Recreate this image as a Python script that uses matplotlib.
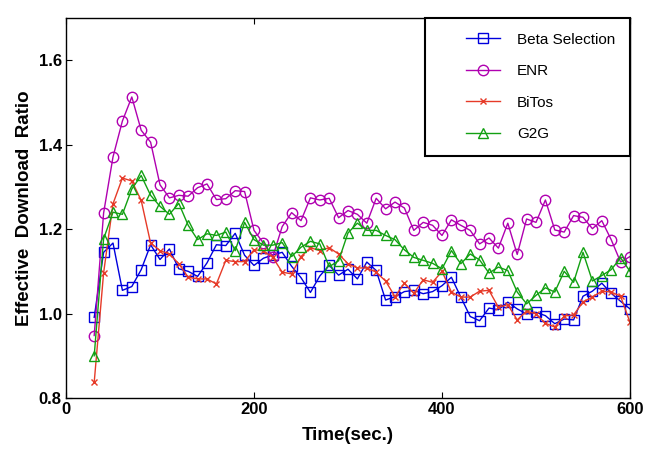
import numpy as np
import matplotlib
matplotlib.use("Agg")
import matplotlib.pyplot as plt
from matplotlib.legend_handler import HandlerLine2D

time_sec = list(range(30, 601, 10))

beta_selection = [0.991, 1.145, 1.167, 1.055, 1.064, 1.104, 1.163, 1.128, 1.153, 1.106,
                  1.100, 1.088, 1.120, 1.163, 1.161, 1.190, 1.138, 1.114, 1.131, 1.139,
                  1.145, 1.112, 1.085, 1.050, 1.089, 1.114, 1.091, 1.105, 1.082, 1.122,
                  1.102, 1.032, 1.040, 1.052, 1.055, 1.047, 1.052, 1.066, 1.086, 1.039,
                  0.993, 0.983, 1.013, 1.009, 1.027, 1.011, 0.999, 1.003, 0.995, 0.976,
                  0.987, 0.985, 1.041, 1.053, 1.072, 1.048, 1.029, 1.011]

enr = [0.948, 1.238, 1.371, 1.456, 1.513, 1.434, 1.406, 1.305, 1.274, 1.280,
       1.278, 1.298, 1.307, 1.270, 1.272, 1.291, 1.289, 1.197, 1.167, 1.135,
       1.206, 1.239, 1.220, 1.274, 1.269, 1.273, 1.227, 1.244, 1.235, 1.214,
       1.273, 1.248, 1.264, 1.250, 1.197, 1.216, 1.209, 1.185, 1.222, 1.209,
       1.197, 1.165, 1.179, 1.155, 1.214, 1.140, 1.224, 1.216, 1.269, 1.198,
       1.193, 1.232, 1.228, 1.201, 1.220, 1.175, 1.122, 1.135]

bitos = [0.837, 1.096, 1.260, 1.321, 1.314, 1.268, 1.167, 1.149, 1.141, 1.118,
         1.086, 1.082, 1.082, 1.070, 1.126, 1.123, 1.123, 1.151, 1.149, 1.133,
         1.098, 1.094, 1.135, 1.156, 1.149, 1.156, 1.141, 1.118, 1.108, 1.108,
         1.098, 1.077, 1.040, 1.072, 1.048, 1.080, 1.074, 1.100, 1.051, 1.039,
         1.039, 1.053, 1.055, 1.015, 1.021, 0.985, 1.006, 0.999, 0.977, 0.968,
         0.994, 0.997, 1.027, 1.039, 1.053, 1.051, 1.041, 0.979]

g2g = [0.900, 1.177, 1.240, 1.235, 1.295, 1.327, 1.280, 1.254, 1.235, 1.261,
       1.209, 1.175, 1.189, 1.185, 1.193, 1.149, 1.216, 1.175, 1.162, 1.162,
       1.168, 1.135, 1.157, 1.171, 1.165, 1.111, 1.125, 1.191, 1.214, 1.197,
       1.197, 1.185, 1.175, 1.151, 1.133, 1.126, 1.119, 1.106, 1.149, 1.118,
       1.141, 1.127, 1.096, 1.110, 1.102, 1.051, 1.023, 1.043, 1.061, 1.051,
       1.100, 1.074, 1.145, 1.077, 1.090, 1.104, 1.132, 1.100]

series_names = ["Beta Selection", "ENR", "BiTos", "G2G"]
x_ticks = [0, 200, 400, 600]
y_ticks = [0.8, 1.0, 1.2, 1.4, 1.6]

plt.rcParams['font.family'] = ['Liberation Sans', 'DejaVu Sans']

fig = plt.figure(figsize=(6.63, 4.49), dpi=100)
ax = fig.add_axes([66/663, 51/449, 564/663, 380/449])

styles = [
    dict(color='#0000dd', marker='s', ms=7),
    dict(color='#b000b0', marker='o', ms=7.5),
    dict(color='#e63a28', marker='x', ms=5),
    dict(color='#12a012', marker='^', ms=7.5),
]
data = [beta_selection, enr, bitos, g2g]

handles = []
for name, vals, st in zip(series_names, data, styles):
    h, = ax.plot(time_sec, vals, color=st['color'], marker=st['marker'],
                 markersize=st['ms'], markerfacecolor='none',
                 markeredgecolor=st['color'], markeredgewidth=1.0,
                 linewidth=1.0, label=name)
    handles.append(h)

ax.set_xlim(0, 600)
ax.set_ylim(0.8, 1.7)
ax.set_xticks(x_ticks)
ax.set_yticks(y_ticks)
ax.set_xticklabels([str(v) for v in x_ticks], fontweight='bold', fontsize=12)
ax.set_yticklabels([f"{v:.1f}" for v in y_ticks], fontweight='bold', fontsize=12)
ax.tick_params(direction='in', length=4, width=0.8, top=True, right=True, pad=3)
for sp in ax.spines.values():
    sp.set_linewidth(1.0)

ax.set_xlabel("Time(sec.)", fontweight='bold', fontsize=13.5, labelpad=7)
ax.set_ylabel("Effective  Download  Ratio", fontweight='bold', fontsize=13.5, labelpad=4)

hmap = {h: HandlerLine2D(xpad=1.73) for h in handles}
leg = ax.legend(handles=handles, loc='upper right', borderaxespad=0.0,
                fontsize=11, frameon=True, fancybox=False, borderpad=0.95,
                handlelength=3.95, handletextpad=1.15, labelspacing=1.15,
                handler_map=hmap)
leg.get_frame().set_edgecolor('black')
leg.get_frame().set_linewidth(1.5)
leg.get_frame().set_alpha(1.0)

fig.savefig("out.png", dpi=100)
